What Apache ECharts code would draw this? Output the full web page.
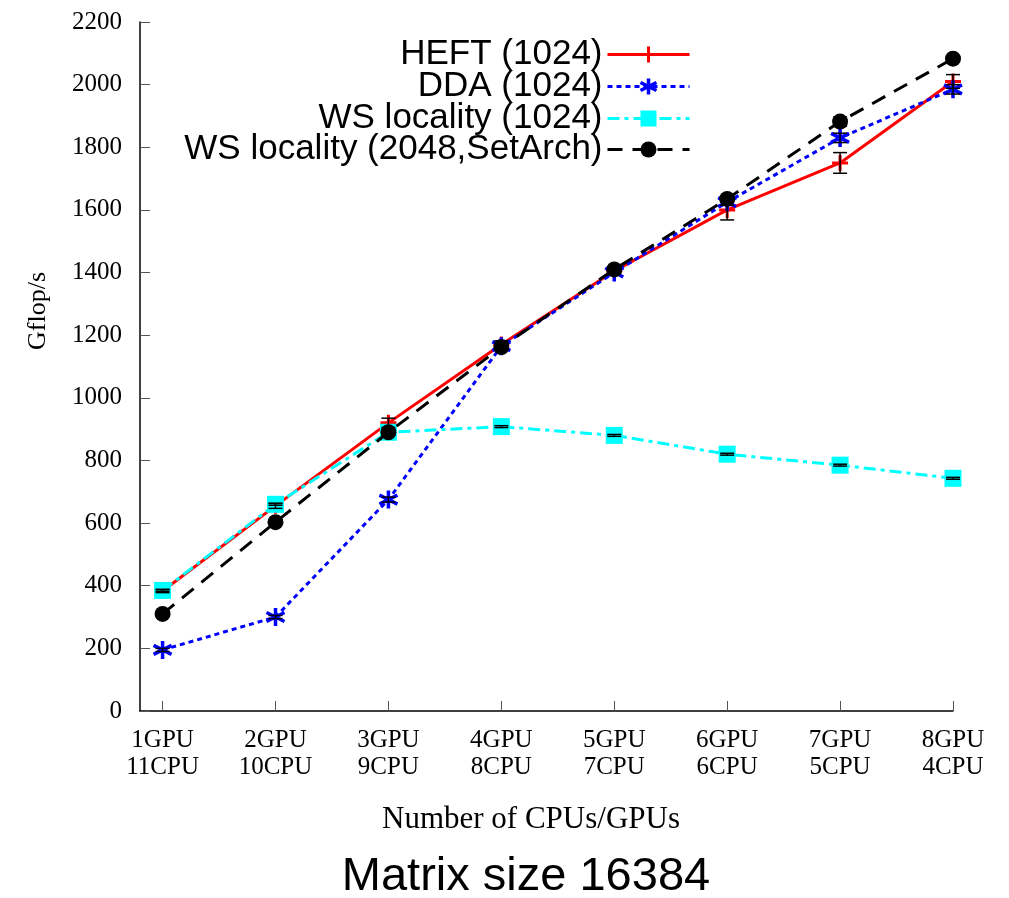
<!DOCTYPE html>
<html><head><meta charset="utf-8">
<script src="https://cdn.jsdelivr.net/npm/echarts@6/dist/echarts.min.js"></script>
<style>html,body{margin:0;padding:0;background:#fff}#c{width:1009px;height:898px}</style>
</head><body><div id="c"></div>
<script>
const categories = ['1GPU\n11CPU','2GPU\n10CPU','3GPU\n9CPU','4GPU\n8CPU','5GPU\n7CPU','6GPU\n6CPU','7GPU\n5CPU','8GPU\n4CPU'];
const seriesNames = ['HEFT (1024)','DDA (1024)','WS locality (1024)','WS locality (2048,SetArch)'];
const heft = [383, 655, 920, 1170, 1405, 1600, 1750, 2010];
const dda = [195, 300, 675, 1165, 1400, 1625, 1830, 1985];
const wsLoc = [385, 660, 890, 908, 880, 820, 785, 743];
const wsArch = [310, 603, 890, 1162, 1410, 1635, 1882, 2083];
const heftErr = [5, 8, 15, 12, 8, 32, 33, 22];
const ddaErr = [5, 5, 8, 10, 6, 10, 15, 15];
const wsLocErr = [3, 3, 5, 3, 3, 3, 3, 3];
const wsArchErr = [5, 5, 8, 8, 5, 8, 15, 10];
const yTicks = [0,200,400,600,800,1000,1200,1400,1600,1800,2000,2200];

const serif = '"Liberation Serif","DejaVu Serif",serif';
const sans = '"Liberation Sans",Arial,sans-serif';
const xs = categories.map((c,i)=>i+1);
const toPts = arr => arr.map((v,i)=>[xs[i], v]);
const toErr = (arr,err) => arr.map((v,i)=>[xs[i], v, err[i]]);

const styles = [
  {color:'#ff0000', type:'solid', symbol:'path://M5,0L5,10M0,5L10,5', size:16, stroke:true, bw:3},
  {color:'#0000ff', type:[5,4], symbol:'path://M5,0L5,10M0.7,2.5L9.3,7.5M0.7,7.5L9.3,2.5', size:18, stroke:true, bw:3.5},
  {color:'#00ffff', type:[12,5,4,5], symbol:'rect', size:17, stroke:false},
  {color:'#000000', type:[15,10], symbol:'circle', size:16, stroke:false}
];
const datas = [heft, dda, wsLoc, wsArch];
const errs = [heftErr, ddaErr, wsLocErr, wsArchErr];

const series = [];
datas.forEach((d,k)=>{
  const s = styles[k];
  series.push({
    name: seriesNames[k], type:'line', data: toPts(d), z: 2+k,
    symbol: s.symbol, symbolSize: s.size, showSymbol:true,
    lineStyle:{color:s.color, width:3, type:s.type},
    itemStyle: s.stroke ? {color:s.color, borderColor:s.color, borderWidth:s.bw} : {color:s.color},
    emphasis:{disabled:true}, animation:false
  });
});
datas.forEach((d,k)=>{
  series.push({
    type:'custom', data: toErr(d, errs[k]), z: 10, animation:false, silent:true,
    renderItem: function(params, api){
      const x = api.value(0), y = api.value(1), e = api.value(2);
      const hi = api.coord([x, y+e]), lo = api.coord([x, y-e]);
      const w = 7;
      const st = {stroke:'#000', lineWidth:1.5};
      return {type:'group', children:[
        {type:'line', shape:{x1:hi[0], y1:hi[1], x2:lo[0], y2:lo[1]}, style:st},
        {type:'line', shape:{x1:hi[0]-w, y1:hi[1], x2:hi[0]+w, y2:hi[1]}, style:st},
        {type:'line', shape:{x1:lo[0]-w, y1:lo[1], x2:lo[0]+w, y2:lo[1]}, style:st}
      ]};
    }
  });
});

const legendCenters = [52, 84, 116, 147];
const legends = seriesNames.map((n,k)=>({
  data:[n], orient:'vertical', right: 318, top: legendCenters[k]-15, padding:0,
  align:'right', itemWidth: 82, itemHeight: 20, itemGap: 0,
  lineStyle:{width:3, color:styles[k].color, type:styles[k].type},
  itemStyle: styles[k].stroke ? {color:styles[k].color, borderColor:styles[k].color, borderWidth:styles[k].bw} : {color:styles[k].color},
  textStyle:{fontFamily:sans, fontSize:35, color:'#000'},
  selectedMode:false
}));

const chart = echarts.init(document.getElementById('c'), null, {renderer:'canvas'});
chart.setOption({
  backgroundColor:'#fff',
  animation:false,
  legend: legends,
  grid:{left:140, right:56, top:22, bottom:187},
  xAxis:{
    type:'value', min:0.8, max:8,
    axisLine:{show:true, onZero:false, lineStyle:{color:'#000', width:1.5}},
    axisTick:{show:true, inside:true, length:10, customValues: xs, lineStyle:{color:'#555', width:1}},
    axisLabel:{customValues: xs, margin:16, fontFamily:serif, fontSize:25, color:'#000', lineHeight:27,
      formatter: v => categories[Math.round(v)-1] || ''},
    splitLine:{show:false}
  },
  yAxis:{
    type:'value', min:0, max:2200, interval:200,
    axisLine:{show:true, lineStyle:{color:'#000', width:1.5}},
    axisTick:{show:true, inside:true, length:10, lineStyle:{color:'#555', width:1}},
    axisLabel:{margin:18, fontFamily:serif, fontSize:25, color:'#000',
      formatter: v => yTicks.includes(v) ? String(v) : ''},
    splitLine:{show:false}
  },
  graphic:[
    {type:'text', x:38, y:311, rotation:Math.PI/2, style:{text:'Gflop/s', font:'26px '+serif, fill:'#000', textAlign:'center', textVerticalAlign:'middle'}},
    {type:'text', x:531, y:820, style:{text:'Number of CPUs/GPUs', font:'31px '+serif, fill:'#000', textAlign:'center', textVerticalAlign:'middle'}},
    {type:'text', x:526, y:877, style:{text:'Matrix size 16384', font:'47px '+sans, fill:'#000', textAlign:'center', textVerticalAlign:'middle'}}
  ],
  series: series
});
</script></body></html>
